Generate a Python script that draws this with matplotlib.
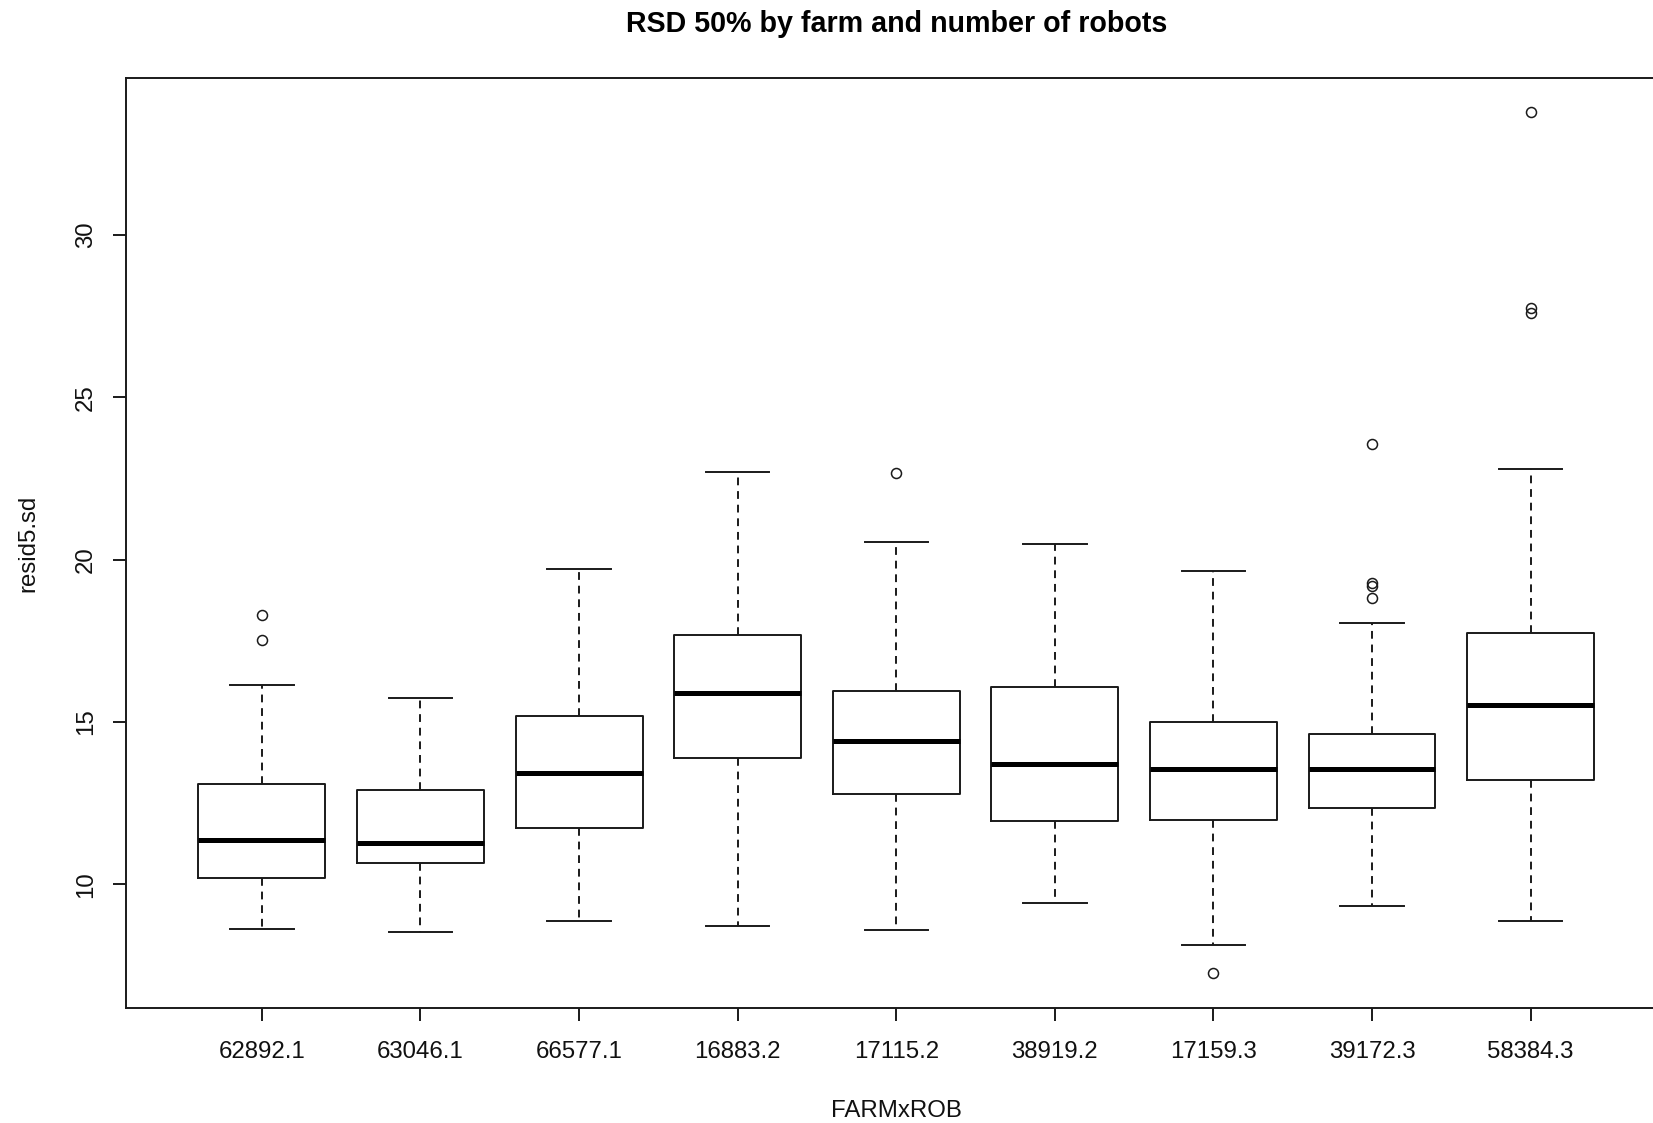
import matplotlib
matplotlib.use("Agg")
import matplotlib.pyplot as plt

plt.rcParams["font.family"] = ["Liberation Sans", "DejaVu Sans"]

groups = ["62892.1", "63046.1", "66577.1", "16883.2", "17115.2",
          "38919.2", "17159.3", "39172.3", "58384.3"]
whisker_low = [8.64, 8.54, 8.86, 8.73, 8.60, 9.42, 8.15, 9.35, 8.86]
q1 = [10.19, 10.65, 11.75, 13.90, 12.79, 11.95, 11.98, 12.34, 13.21]
median = [11.36, 11.27, 13.44, 15.91, 14.42, 13.70, 13.57, 13.57, 15.52]
q3 = [13.08, 12.92, 15.19, 17.69, 15.97, 16.07, 15.00, 14.64, 17.73]
whisker_high = [16.14, 15.75, 19.71, 22.69, 20.55, 20.49, 19.64, 18.05, 22.79]
outliers = [
    [18.31, 17.53],
    [],
    [],
    [],
    [22.66],
    [],
    [7.27],
    [23.57, 19.29, 19.19, 18.83],
    [33.80, 27.76, 27.60],
]
y_ticks = [10, 15, 20, 25, 30]

stats = []
for i, name in enumerate(groups):
    stats.append(dict(label=name, whislo=whisker_low[i], q1=q1[i], med=median[i],
                      q3=q3[i], whishi=whisker_high[i], fliers=outliers[i]))

W, H = 1653, 1123
fig = plt.figure(figsize=(W / 100, H / 100), dpi=100)
left, right, top, bottom = 125.5, 1667, 78, 1008
ax = fig.add_axes([left / W, 1 - bottom / H, (right - left) / W, (bottom - top) / H])

ink = "#1a1a1a"
lw = 1.4
ax.bxp(stats, positions=range(1, len(groups) + 1), widths=0.8, capwidths=0.4,
       boxprops=dict(color=ink, linewidth=lw),
       whiskerprops=dict(color=ink, linewidth=lw, linestyle=(0, (4, 3))),
       capprops=dict(color=ink, linewidth=lw),
       medianprops=dict(color="black", linewidth=3.6, solid_capstyle="butt"),
       flierprops=dict(marker="o", markerfacecolor="none", markeredgecolor=ink,
                       markersize=7.2, markeredgewidth=1.1, linestyle="none"))

ax.set_xlim(0.14, 9.86)
ax.set_ylim(6.196, 34.835)
ax.set_yticks(y_ticks)
ax.set_yticklabels([str(t) for t in y_ticks], rotation=90, va="center")
ax.set_xticks(range(1, len(groups) + 1))
ax.set_xticklabels(groups)

for s in ax.spines.values():
    s.set_color(ink)
    s.set_linewidth(1.4)

ax.tick_params(axis="both", length=9.4, width=1.4, color=ink, labelsize=17.3,
               labelcolor="#111111")
ax.tick_params(axis="x", pad=14.5)
ax.tick_params(axis="y", pad=11)

cx = (left + right) / 2 / W
fig.text(cx, 1 - 24 / H, "RSD 50% by farm and number of robots", ha="center",
         va="center", fontsize=20.6, fontweight="bold", color="black")
fig.text(cx, 1 - 1111 / H, "FARMxROB", ha="center", va="center", fontsize=17.3,
         color="#111111")
fig.text(28 / W, 1 - 543 / H, "resid5.sd", ha="center", va="center", fontsize=17.3,
         rotation=90, color="#111111")

fig.savefig("out.png", dpi=100, facecolor="white")
